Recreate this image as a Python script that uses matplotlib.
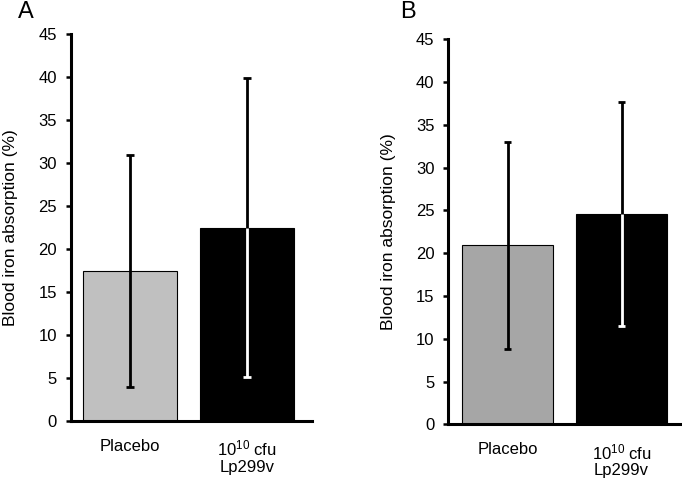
import matplotlib
matplotlib.use("Agg")
import matplotlib.pyplot as plt
import numpy as np

plt.rcParams['font.family'] = ['Liberation Sans', 'DejaVu Sans']
plt.rcParams['mathtext.fontset'] = 'custom'
plt.rcParams['mathtext.rm'] = 'Liberation Sans'

categories = ["Placebo", "$\\mathregular{10^{10}}$ cfu\nLp299v"]
panel_letters = ["A", "B"]
means_A = [17.4, 22.4]
upper_A = [30.9, 39.8]
lower_A = [3.95, 5.1]
means_B = [20.9, 24.55]
upper_B = [32.95, 37.7]
lower_B = [8.8, 11.45]
bar_colors_A = ["#c0c0c0", "#000000"]
bar_colors_B = ["#a6a6a6", "#000000"]
lower_err_colors = ["#000000", "#ffffff"]
yticks = [0, 5, 10, 15, 20, 25, 30, 35, 40, 45]
ylabel = "Blood iron absorption (%)"

fig = plt.figure(figsize=(6.82, 4.82), dpi=100)
W, H = 682, 482

def px_axes(l, r, top, bottom):
    return fig.add_axes([l / W, 1 - bottom / H, (r - l) / W, (bottom - top) / H])

axA = px_axes(71, 311.7, 33.7, 420.7)
axB = px_axes(448.3, 690, 39.3, 424.3)

def draw(ax, means, upper, lower, colors, xlim):
    x = np.arange(len(means))
    ax.bar(x, means, width=0.805, color=colors, edgecolor="black", linewidth=0.8, zorder=2)
    means = np.array(means); upper = np.array(upper); lower = np.array(lower)
    cap = 0.034
    lw = 2.0
    for i in range(len(means)):
        ax.vlines(x[i], means[i], upper[i], color="black", linewidth=lw, zorder=3)
        ax.hlines(upper[i], x[i] - cap, x[i] + cap, color="black", linewidth=lw, zorder=3)
        ax.vlines(x[i], lower[i], means[i], color=lower_err_colors[i], linewidth=lw, zorder=3)
        ax.hlines(lower[i], x[i] - cap, x[i] + cap, color=lower_err_colors[i], linewidth=lw, zorder=3)
    ax.set_ylim(0, 45)
    ax.set_xlim(*xlim)
    ax.set_yticks(yticks)
    ax.set_xticks(x)
    ax.set_xticklabels(categories, fontsize=12, linespacing=1.1)
    ax.tick_params(axis='x', length=0, pad=13)
    ax.tick_params(axis='y', direction='out', length=3.5, width=1.8, labelsize=12, pad=6.5)
    for s in ['top', 'right']:
        ax.spines[s].set_visible(False)
    for s in ['left', 'bottom']:
        ax.spines[s].set_linewidth(2.2)
    ax.set_ylabel(ylabel, fontsize=12.5)

draw(axA, means_A, upper_A, lower_A, bar_colors_A, (-0.506, 1.557))
draw(axB, means_B, upper_B, lower_B, bar_colors_B, (-0.52, 1.6))

axA.yaxis.set_label_coords(-(71 - 11) / (311.7 - 71), 0.5)
axB.yaxis.set_label_coords(-(448.3 - 388) / (690 - 448.3), 0.5)
axA.yaxis.label.set_va('center')
axB.yaxis.label.set_va('center')

fig.text(18 / W, 1 - 12.5 / H, panel_letters[0], fontsize=17, ha='left', va='center')
fig.text(400 / W, 1 - 12.5 / H, panel_letters[1], fontsize=17, ha='left', va='center')

fig.savefig("out.png", dpi=100)
